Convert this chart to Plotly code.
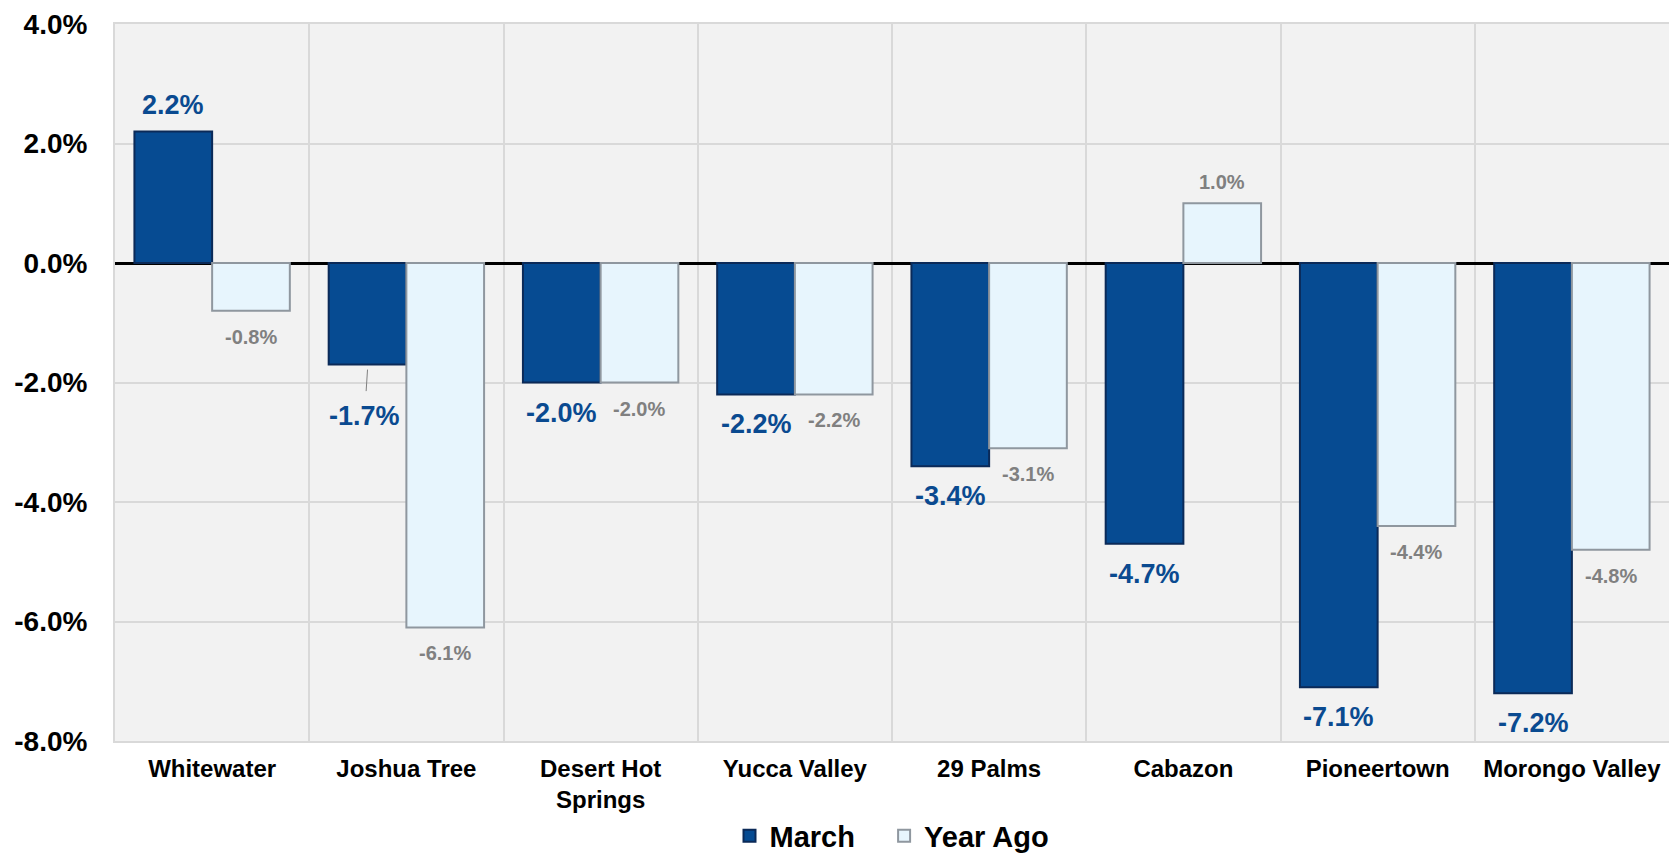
import plotly.graph_objects as go

categorias = ['Whitewater', 'Joshua Tree', 'Desert Hot<br>Springs', 'Yucca Valley',
              '29 Palms', 'Cabazon', 'Pioneertown', 'Morongo Valley']
march = [2.2, -1.7, -2.0, -2.2, -3.4, -4.7, -7.1, -7.2]
year_ago = [-0.8, -6.1, -2.0, -2.2, -3.1, 1.0, -4.4, -4.8]
y_ticks = [4, 2, 0, -2, -4, -6, -8]

fonte = 'Liberation Sans, Arial, sans-serif'
azul = '#0a4a90'
cinza = '#808080'

fig = go.Figure()
fig.add_trace(go.Bar(
    x=categorias, y=march, name='March\u00a0\u00a0\u00a0',
    marker=dict(color='#064b92', line=dict(color='#0b2a58', width=2))
))
fig.add_trace(go.Bar(
    x=categorias, y=year_ago, name='Year Ago',
    marker=dict(color='#e7f5fd', line=dict(color='#8f979f', width=2))
))

# rotulos de dados
for i, v in enumerate(march):
    if i == 1:
        # Joshua Tree tem linha guia
        fig.add_annotation(
            x=i - 0.2, y=v, text=f'{v:.1f}%', showarrow=True,
            arrowhead=0, arrowwidth=1, arrowcolor=cinza, ax=-3, ay=46,
            yshift=-5, startstandoff=8,
            font=dict(family=fonte, size=27, color=azul, weight='bold')
        )
        continue
    fig.add_annotation(
        x=i - 0.2, y=v, text=f'{v:.1f}%', showarrow=False,
        yshift=27 if v > 0 else -30, yanchor='middle',
        font=dict(family=fonte, size=27, color=azul, weight='bold')
    )

for i, v in enumerate(year_ago):
    fig.add_annotation(
        x=i + 0.2, y=v, text=f'{v:.1f}%', showarrow=False,
        yshift=21 if v > 0 else -26, yanchor='middle',
        font=dict(family=fonte, size=20, color=cinza, weight='bold')
    )

fig.update_layout(
    barmode='group',
    bargap=0.2,
    bargroupgap=0,
    plot_bgcolor='#f2f2f2',
    paper_bgcolor='white',
    margin=dict(l=107, r=0, t=16, b=114, autoexpand=False),
    font=dict(family=fonte, color='black'),
    legend=dict(
        orientation='h', x=0.5, xanchor='center', y=-0.1325, yanchor='middle',
        font=dict(family=fonte, size=29, color='black', weight='bold')
    ),
    xaxis=dict(
        type='category', tickson='boundaries', showgrid=True,
        gridcolor='#d9d9d9', gridwidth=1.5, automargin=False,
        showline=True, linecolor='#d9d9d9', linewidth=2, mirror=True,
        ticks='outside', ticklen=25, tickcolor='rgba(0,0,0,0)',
        ticklabelstandoff=5,
        tickfont=dict(family=fonte, size=24, color='black', weight='bold'),
        range=[-0.5, 7.5]
    ),
    yaxis=dict(
        range=[-8, 4], tickvals=y_ticks,
        ticktext=[f'{t:.1f}%' for t in y_ticks],
        showgrid=True, gridcolor='#d9d9d9', gridwidth=1.5, automargin=False,
        zeroline=True, zerolinecolor='black', zerolinewidth=3,
        showline=True, linecolor='#d9d9d9', linewidth=2, mirror=True,
        ticks='outside', ticklen=20, tickcolor='rgba(0,0,0,0)',
        ticklabeloverflow='allow',
        tickfont=dict(family=fonte, size=28, color='black', weight='bold')
    ),
)

fig.write_html('out.html')
